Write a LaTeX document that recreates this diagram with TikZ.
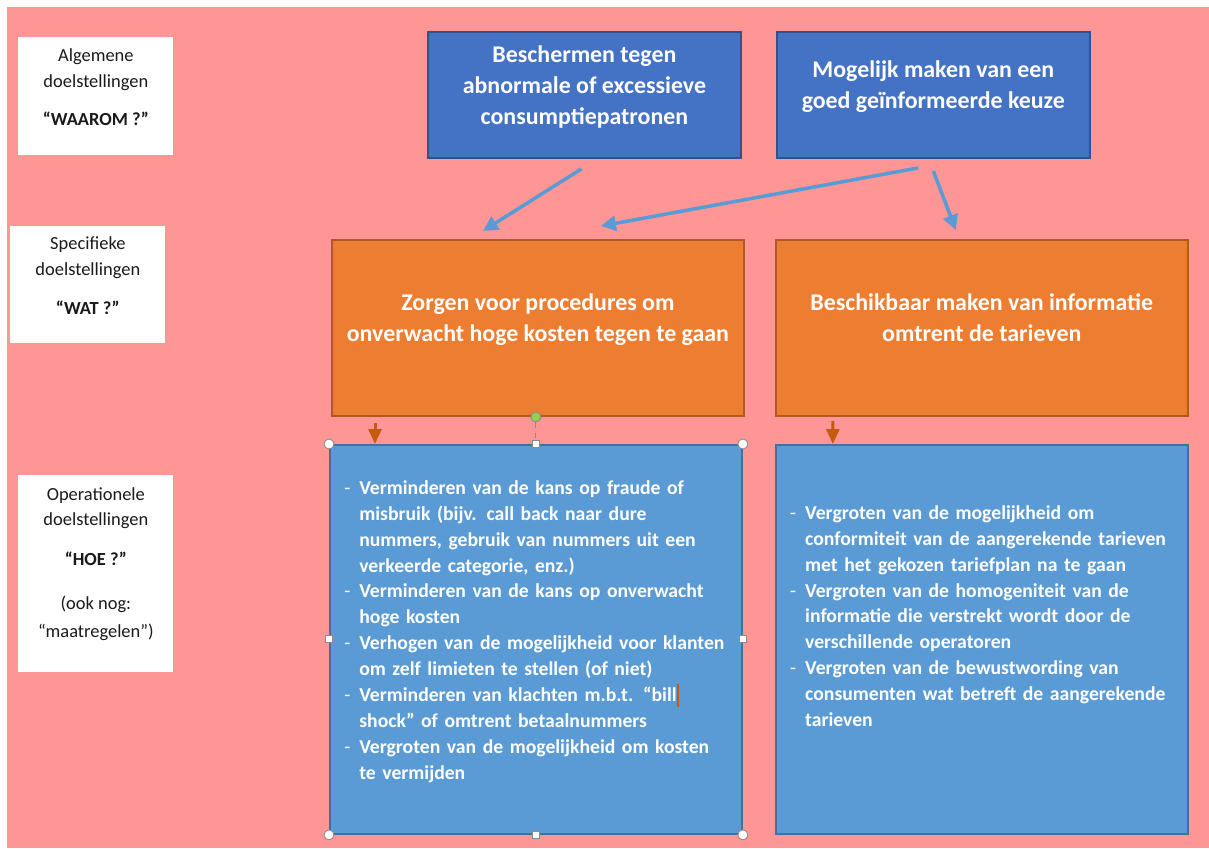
\documentclass[tikz,border=0pt]{standalone}
\usepackage{fontspec}
\setmainfont{Carlito}
\usepackage{xcolor}
\usetikzlibrary{positioning,arrows.meta,calc}
\definecolor{cBack}{HTML}{FF9696}
\definecolor{cGoal}{HTML}{4472C4}
\definecolor{cGoalLn}{HTML}{2F528F}
\definecolor{cSpec}{HTML}{ED7D31}
\definecolor{cSpecLn}{HTML}{AE5A21}
\definecolor{cOps}{HTML}{5B9BD5}
\definecolor{cOpsLn}{HTML}{41719C}
\definecolor{cDown}{HTML}{C55A11}
\definecolor{cInk}{HTML}{1A1A1A}
\definecolor{cHandle}{HTML}{8C8C8C}
\definecolor{cRot}{HTML}{92D050}
% text block lifted a little above the box centre
\newcommand{\lift}[2][0.16cm]{\raisebox{#1}[\height][\depth]{\begin{tabular}{@{}c@{}}#2\end{tabular}}}
% hanging dash item for the operational lists (break lines with \newline)
\newcommand{\opsitem}{\par\noindent\hangindent=0.3cm\hangafter=1\makebox[0.3cm][l]{\textmd{-}}}

\begin{document}
\begin{tikzpicture}[x=0.02cm,y=0.02cm,
  lvl/.style={fill=white,text=cInk,inner sep=2pt,minimum width=3.1cm,
    font=\fontsize{10.5}{14.75}\selectfont},
  box/.style={draw,line width=1.1pt,text=white,inner sep=4pt},
  goal/.style={box,fill=cGoal,draw=cGoalLn,minimum width=6.26cm,minimum height=2.52cm,
    font=\bfseries\fontsize{13.6}{17.6}\selectfont},
  spec/.style={box,fill=cSpec,draw=cSpecLn,minimum width=8.24cm,minimum height=3.52cm,
    font=\bfseries\fontsize{13.6}{17.6}\selectfont},
  ops/.style={box,fill=cOps,draw=cOpsLn,minimum width=8.24cm,minimum height=7.78cm},
  opstxt/.style={text=white,text width=8.4cm,inner sep=0pt,
    font=\bfseries\fontsize{11.2}{14.75}\selectfont},
  flow/.style={-{Triangle[length=0.3cm,width=0.3cm]},line width=2pt,cOps},
  down/.style={-{Triangle[length=0.3cm,width=0.26cm]},line width=1.7pt,cDown},
  corner/.style={circle,draw=cHandle,fill=white,line width=0.5pt,minimum size=0.2cm,inner sep=0pt},
  side/.style={rectangle,draw=cHandle,fill=white,line width=0.5pt,minimum size=0.14cm,inner sep=0pt},
  turn/.style={circle,draw=cHandle,fill=cRot,line width=0.5pt,minimum size=0.2cm,inner sep=0pt}]
  \useasboundingbox (0,0) rectangle (1209,-848);
  \fill[cBack] (7,-7) rectangle (1209,-848);
  % level labels (left column)
  \node[lvl,anchor=north west,minimum height=2.36cm] (why) at (18,-37)
    {\lift{Algemene\\doelstellingen\\[7pt]\textbf{“WAAROM ?”}}};
  \node[lvl,anchor=north west,minimum height=2.34cm] (what) at (10,-226)
    {\lift{Specifieke\\doelstellingen\\[7pt]\textbf{“WAT ?”}}};
  \node[lvl,anchor=north west,minimum height=3.94cm] (how) at (18,-475)
    {\lift[0.21cm]{Operationele\\doelstellingen\\[8pt]\textbf{“HOE ?”}\\[10pt](ook nog:\\[1pt]“maatregelen”)}};
  % general goals
  \node[goal,anchor=north west] (protect) at (427,-31)
    {\lift{Beschermen tegen\\abnormale of excessieve\\consumptiepatronen}};
  \node[goal,right=0.68cm of protect] (choice)
    {\lift{Mogelijk maken van een\\goed geïnformeerde keuze}};
  % specific goals
  \node[spec,anchor=north west] (costs) at (331,-239)
    {\lift{Zorgen voor procedures om\\onverwacht hoge kosten tegen te gaan}};
  \node[spec,right=0.6cm of costs] (tariffs)
    {\lift{Beschikbaar maken van informatie\\omtrent de tarieven}};
  % operational goals
  \node[ops,anchor=north west] (opsA) at (329,-444) {};
  \node[ops,right=0.64cm of opsA] (opsB) {};
  \node[opstxt,anchor=north west] (opsAtxt) at ($(opsA.north west)+(15,-24)$)
    {\opsitem Verminderen van de kans op fraude of\newline misbruik (bijv. call back naar dure\newline nummers, gebruik van nummers uit een\newline verkeerde categorie, enz.)
     \opsitem Verminderen van de kans op onverwacht\newline hoge kosten
     \opsitem Verhogen van de mogelijkheid voor klanten\newline om zelf limieten te stellen (of niet)
     \opsitem Verminderen van klachten m.b.t. “bill{\color{cDown}\rule[-0.25em]{1pt}{1.15em}}\newline shock” of omtrent betaalnummers
     \opsitem Vergroten van de mogelijkheid om kosten\newline te vermijden\par};
  \node[opstxt,anchor=north west] (opsBtxt) at ($(opsB.north west)+(15,-49)$)
    {\opsitem Vergroten van de mogelijkheid om\newline conformiteit van de aangerekende tarieven\newline met het gekozen tariefplan na te gaan
     \opsitem Vergroten van de homogeniteit van de\newline informatie die verstrekt wordt door de\newline verschillende operatoren
     \opsitem Vergroten van de bewustwording van\newline consumenten wat betreft de aangerekende\newline tarieven\par};
  % arrows between levels
  \draw[flow] ($(protect.south)+(-3,-10)$) -- ($(costs.north)+(-55,8)$);
  \draw[flow] ($(choice.south)+(-15,-9)$) -- ($(costs.north)+(63,13)$);
  \draw[flow] ($(choice.south)+(0,-12)$) -- ($(tariffs.north)+(-26,9)$);
  \draw[down] ($(costs.south west)+(44,-6)$) -- ($(opsA.north west)+(46,0)$);
  \draw[down] ($(tariffs.south west)+(58,-4)$) -- ($(opsB.north west)+(58,0)$);
  % selection handles on the left operational box
  \node[turn] (rot) at ($(opsA.north)+(0,27)$) {};
  \draw[cHandle,dashed,line width=0.5pt] (rot) -- (opsA.north);
  \foreach \anc/\nm in {north west/nw,north east/ne,south west/sw,south east/se}
    \node[corner] (hdl-\nm) at (opsA.\anc) {};
  \foreach \anc/\nm in {north/n,south/s,west/w,east/e}
    \node[side] (hdl-\nm) at (opsA.\anc) {};
\end{tikzpicture}
\end{document}
